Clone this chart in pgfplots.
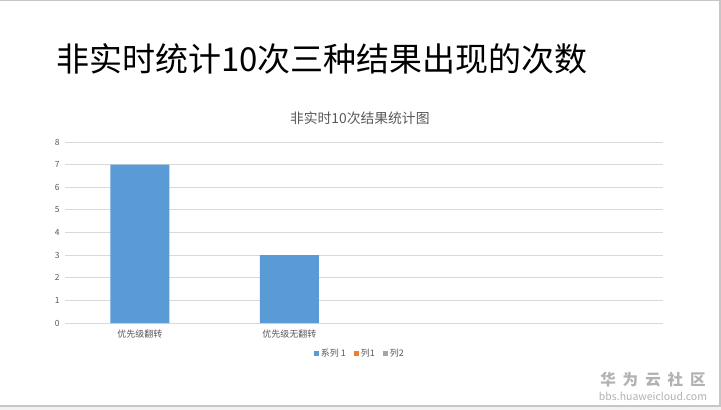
\documentclass[border=0pt]{standalone}
\usepackage{pgfplots}
\pgfplotsset{compat=1.18}
\usepackage{fontspec}
\setmainfont{Noto Sans CJK SC}
\definecolor{serA}{HTML}{5B9BD5}
\definecolor{serB}{HTML}{ED7D31}
\definecolor{serC}{HTML}{A5A5A5}
\definecolor{txtgray}{HTML}{595959}
\definecolor{gridgray}{HTML}{D9D9D9}
\pgfplotsset{sq legend/.style={legend image code/.code={\fill[##1] (0pt,-2.5pt) rectangle (5pt,2.5pt);}}}
\begin{document}
\begin{tikzpicture}
\path[use as bounding box] (0pt,0pt) rectangle (721pt,410pt);
\fill[white] (0pt,0pt) rectangle (721pt,410pt);
\fill[gray!10] (0pt,0pt) rectangle (721pt,3.5pt);
\draw[gray!45, line width=1.5pt] (0pt,4pt) -- (720pt,4pt) -- (720pt,409.3pt) -- (0pt,409.3pt);
% slide title
\node[anchor=west, inner sep=0pt, font=\fontsize{33}{40}\selectfont] at (56pt,351pt) {非实时统计10次三种结果出现的次数};
% watermark
\node[anchor=center, inner sep=0pt, text=gray!60, font=\fontsize{15.5}{18}\selectfont\bfseries] at (653pt,30pt) {华\hspace{7pt}为\hspace{7pt}云\hspace{7pt}社\hspace{7pt}区};
\node[anchor=center, inner sep=0pt, text=gray!60, font=\fontsize{10.5}{12}\selectfont] at (653pt,14pt) {bbs.huaweicloud.com};
\begin{axis}[
  at={(65pt,87pt)}, anchor=south west,
  width=598pt, height=181pt, scale only axis,
  xmin=-0.5, xmax=3.5,
  ymin=0, ymax=8,
  ytick={0,1,2,3,4,5,6,7,8},
  xtick={0,1,2,3},
  xticklabels={优先级翻转,优先级无翻转,{},{}},
  major tick length=0pt,
  axis line style={draw=none},
  ymajorgrids, grid style={gridgray, line width=0.8pt},
  /pgf/number format/assume math mode=true,
  yticklabel style={text=txtgray, font=\fontsize{8.5}{10}\selectfont, anchor=east, xshift=-2pt},
  xticklabel style={text=txtgray, font=\fontsize{9}{11}\selectfont, anchor=center, yshift=-11pt},
  title={非实时10次结果统计图},
  title style={at={(0.493,1.1)}, anchor=center, text=txtgray, font=\fontsize{13.8}{17}\selectfont},
  legend columns=3,
  legend style={at={(0.493,-0.166)}, anchor=center, draw=none, fill=none,
    text=txtgray, font=\fontsize{9}{11}\selectfont,
    /tikz/every even column/.append style={column sep=6pt}},
]
\addplot[ybar, fill=serA, draw=none, bar width=59pt, sq legend] coordinates {(0,7) (1,3)};
\addlegendentry{系列 1}
\addlegendimage{fill=serB, draw=none, sq legend}
\addlegendentry{列1}
\addlegendimage{fill=serC, draw=none, sq legend}
\addlegendentry{列2}
\end{axis}
\end{tikzpicture}
\end{document}
